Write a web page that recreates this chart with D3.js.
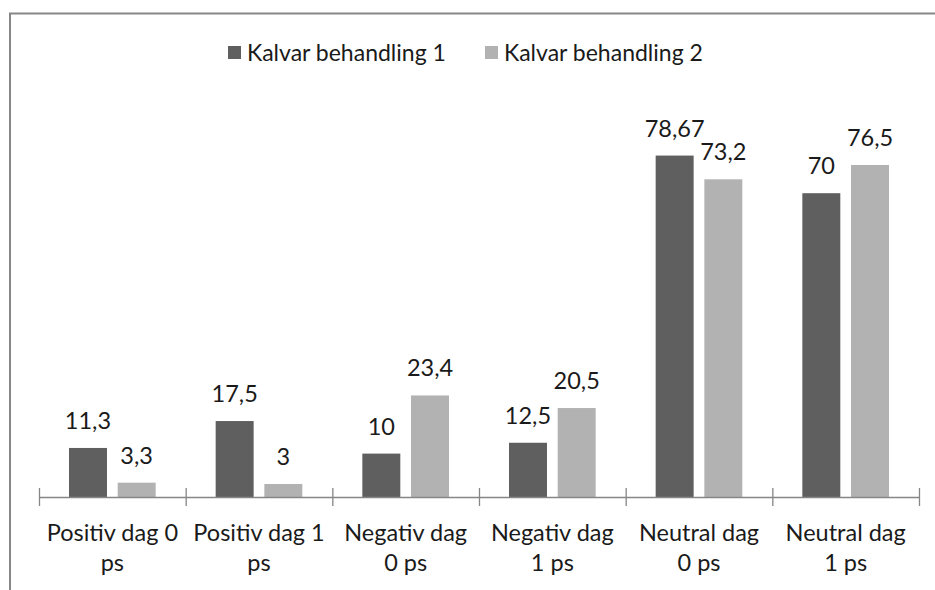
<!DOCTYPE html>
<meta charset="utf-8">
<script src="https://d3js.org/d3.v7.min.js"></script>
<style>
body { margin: 0; background: #fff; }
text {
  font-family: Lato, "Open Sans", sans-serif;
  font-size: 23.5px;
  fill: #1a1a1a;
}
.legend text { font-size: 23px; }
.axis path, .axis line { stroke: #868686; stroke-width: 1.3px; }
</style>
<body>
<div id="chart"></div>

<script>
// data
var categories = ["Positiv dag 0 ps", "Positiv dag 1 ps", "Negativ dag 0 ps",
                  "Negativ dag 1 ps", "Neutral dag 0 ps", "Neutral dag 1 ps"];
var tickLabels = [["Positiv dag 0", "ps"], ["Positiv dag 1", "ps"], ["Negativ dag", "0 ps"],
                  ["Negativ dag", "1 ps"], ["Neutral dag", "0 ps"], ["Neutral dag", "1 ps"]];
var seriesNames = ["Kalvar behandling 1", "Kalvar behandling 2"];
var behandling1 = [11.3, 17.5, 10, 12.5, 78.67, 70];
var behandling2 = [3.3, 3, 23.4, 20.5, 73.2, 76.5];
var labels1 = ["11,3", "17,5", "10", "12,5", "78,67", "70"];
var labels2 = ["3,3", "3", "23,4", "20,5", "73,2", "76,5"];
var colors = ["#5f5f5f", "#b2b2b2"];

var width = 935, height = 590
var plot = {left: 39, right: 919, bottom: 497}

var svg = d3.select("#chart")
    .append("svg")
    .attr("width", width)
    .attr("height", height)

// chart frame (runs past the right/bottom edge in the original)
svg.append("rect")
    .attr("x", 10).attr("y", 13.5)
    .attr("width", 1000).attr("height", 1000)
    .attr("fill", "none")
    .attr("stroke", "#878787")
    .attr("stroke-width", 2)

// long format
var rows = []
categories.forEach(function(c, i) {
  rows.push({cat: c, series: seriesNames[0], value: behandling1[i], label: labels1[i]})
  rows.push({cat: c, series: seriesNames[1], value: behandling2[i], label: labels2[i]})
})

var x0 = d3.scaleBand()
    .domain(categories)
    .range([plot.left, plot.right])

var x1 = d3.scaleBand()
    .domain(seriesNames)
    .range([30, x0.bandwidth() - 30])
    .paddingInner(0.22)

var y = d3.scaleLinear()
    .domain([0, 90])
    .range([plot.bottom, plot.bottom - 90 * 4.34])

var color = d3.scaleOrdinal().domain(seriesNames).range(colors)

// bars
svg.append("g").selectAll("rect")
    .data(rows).enter()
    .append("rect")
      .attr("x", function(d) { return x0(d.cat) + x1(d.series) })
      .attr("y", function(d) { return y(d.value) })
      .attr("width", x1.bandwidth())
      .attr("height", function(d) { return y(0) - y(d.value) })
      .attr("fill", function(d) { return color(d.series) })

// value labels
svg.append("g").selectAll("text")
    .data(rows).enter()
    .append("text")
      .attr("x", function(d) { return x0(d.cat) + x1(d.series) + x1.bandwidth() / 2 })
      .attr("y", function(d) { return y(d.value) - 19 })
      .attr("text-anchor", "middle")
      .text(function(d) { return d.label })

// x axis, ticks between the categories
var tickScale = d3.scaleLinear()
    .domain([0, categories.length])
    .range([plot.left, plot.right])

var xAxis = d3.axisBottom(tickScale)
    .tickValues(d3.range(categories.length + 1))
    .tickSize(9)
    .tickSizeOuter(0)
    .tickFormat("")

var axisG = svg.append("g")
    .attr("class", "axis")
    .attr("transform", "translate(0," + plot.bottom + ")")
    .call(xAxis)
axisG.selectAll(".tick line").attr("y1", -9)

// category labels
var catLabels = svg.append("g").selectAll("text")
    .data(categories).enter()
    .append("text")
      .attr("text-anchor", "middle")
      .attr("transform", function(d) { return "translate(" + (x0(d) + x0.bandwidth() / 2) + ",0)" })

catLabels.selectAll("tspan")
    .data(function(d, i) { return tickLabels[i] })
    .enter().append("tspan")
      .attr("x", 0)
      .attr("y", function(d, j) { return 541 + j * 30 })
      .text(function(d) { return d })

// legend
var legend = svg.append("g")
    .attr("class", "legend")
    .selectAll("g")
    .data(seriesNames).enter()
    .append("g")
      .attr("transform", function(d, i) { return "translate(" + (228 + i * 257) + ",46)" })

legend.append("rect")
    .attr("width", 13).attr("height", 13)
    .attr("fill", function(d) { return color(d) })

legend.append("text")
    .attr("x", 19)
    .attr("y", 15)
    .text(function(d) { return d })
</script>
</body>
</html>
